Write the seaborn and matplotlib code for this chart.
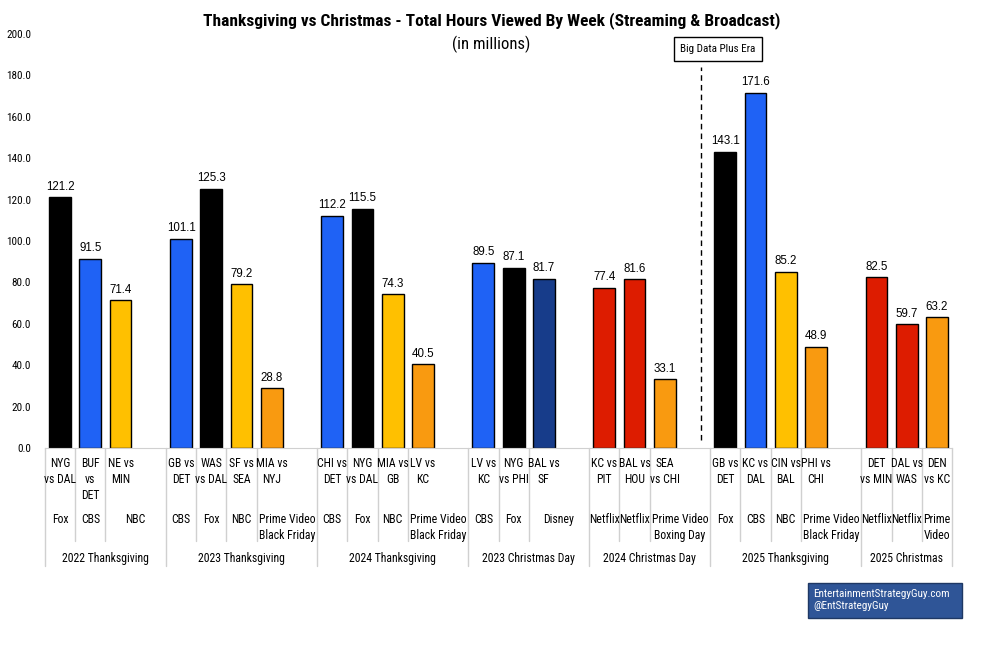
import matplotlib
matplotlib.use("Agg")
import matplotlib.pyplot as plt
import matplotlib.patches as mpatches
import matplotlib.transforms as mtransforms
from matplotlib import font_manager
import seaborn as sns
import pandas as pd

# ---- data ----
groups = ["2022 Thanksgiving", "2023 Thanksgiving", "2024 Thanksgiving",
          "2023 Christmas Day", "2024 Christmas Day", "2025 Thanksgiving",
          "2025 Christmas"]

games = [
    ["NYG\nvs DAL", "BUF\nvs\nDET", "NE vs\nMIN"],
    ["GB vs\nDET", "WAS\nvs DAL", "SF vs\nSEA", "MIA vs\nNYJ"],
    ["CHI vs\nDET", "NYG\nvs DAL", "MIA vs\nGB", "LV vs\nKC"],
    ["LV vs\nKC", "NYG\nvs PHI", "BAL vs\nSF"],
    ["KC vs\nPIT", "BAL vs\nHOU", "SEA\nvs CHI"],
    ["GB vs\nDET", "KC vs\nDAL", "CIN vs\nBAL", "PHI vs\nCHI"],
    ["DET\nvs MIN", "DAL vs\nWAS", "DEN\nvs KC"],
]

networks = [
    ["Fox", "CBS", "NBC"],
    ["CBS", "Fox", "NBC", "Prime Video"],
    ["CBS", "Fox", "NBC", "Prime Video"],
    ["CBS", "Fox", "Disney"],
    ["Netflix", "Netflix", "Prime Video"],
    ["Fox", "CBS", "NBC", "Prime Video"],
    ["Netflix", "Netflix", "Prime Video"],
]

network_labels = [
    ["Fox", "CBS", "NBC"],
    ["CBS", "Fox", "NBC", "Prime Video\nBlack Friday"],
    ["CBS", "Fox", "NBC", "Prime Video\nBlack Friday"],
    ["CBS", "Fox", "Disney"],
    ["Netflix", "Netflix", "Prime Video\nBoxing Day"],
    ["Fox", "CBS", "NBC", "Prime Video\nBlack Friday"],
    ["Netflix", "Netflix", "Prime\nVideo"],
]

hours = [
    [121.2, 91.5, 71.4],
    [101.1, 125.3, 79.2, 28.8],
    [112.2, 115.5, 74.3, 40.5],
    [89.5, 87.1, 81.7],
    [77.4, 81.6, 33.1],
    [143.1, 171.6, 85.2, 48.9],
    [82.5, 59.7, 63.2],
]

palette = {"Fox": "#000000", "CBS": "#1F62F5", "NBC": "#FFC000",
           "Prime Video": "#F99A10", "Disney": "#173C8A", "Netflix": "#DD1C00"}

# build slot order with an empty slot between groups
rows = []
order = []
group_spans = []
slot = 0
for gi, g in enumerate(groups):
    start = slot
    for j, val in enumerate(hours[gi]):
        key = f"s{slot}"
        order.append(key)
        rows.append({"slot": key, "pos": slot, "group": g, "game": games[gi][j],
                     "network": networks[gi][j], "netlabel": network_labels[gi][j],
                     "hours": val, "last": j == len(hours[gi]) - 1})
        slot += 1
    if gi < len(groups) - 1:
        order.append(f"s{slot}")
        slot += 1
    group_spans.append((start, slot))
df = pd.DataFrame(rows)
n_slots = len(order)

# pick a narrow font if one is installed
installed = {f.name for f in font_manager.fontManager.ttflist}
narrow = [f for f in ["Liberation Sans Narrow", "DejaVu Sans Condensed", "Roboto Condensed",
                      "Open Sans Condensed", "Noto Sans Condensed", "Arial Narrow"] if f in installed]
NARROW = narrow[0] if narrow else "Liberation Sans"

# ---- plot ----
sns.set_style("white")
plt.rcParams["text.color"] = "black"
plt.rcParams["ytick.color"] = "black"
fig = plt.figure(figsize=(9.83, 6.51), dpi=100)
ax = fig.add_axes([45 / 983, 203 / 651, 907 / 983, 414 / 651])

sns.barplot(data=df, x="slot", y="hours", hue="network", order=order,
            palette=palette, dodge=False, width=0.72, edgecolor="black",
            linewidth=1, saturation=1, legend=False, ax=ax)

ax.set_xlim(-0.5, n_slots - 0.5)
ax.set_ylim(0, 200)
ax.set_yticks(range(0, 201, 20))
ax.set_yticklabels([f"{v:.1f}" for v in range(0, 201, 20)], family=NARROW, fontsize=8)
ax.tick_params(axis="y", length=0, pad=10)
ax.set_xticks([])
ax.set_xlabel("")
ax.set_ylabel("")
for s in ["top", "right", "left"]:
    ax.spines[s].set_visible(False)
ax.spines["bottom"].set_color("#D0D0D0")

# value labels
for _, r in df.iterrows():
    ax.text(r["pos"], r["hours"] + 2.2, f"{r['hours']:.1f}", ha="center", va="bottom",
            fontsize=8.3, family="Liberation Sans")

# category table under axis
trans = mtransforms.blended_transform_factory(ax.transData, ax.transAxes)
line_kw = dict(color="#D0D0D0", lw=1, transform=trans, clip_on=False)
cat_size = 8.5 if narrow else 7
cat_font = dict(family=NARROW, fontsize=cat_size, linespacing=1.3)
for gi, (start, end) in enumerate(group_spans):
    ax.plot([start - 0.5, start - 0.5], [0, -0.285], **line_kw)
    ax.text((start + end - 1) / 2, -0.266, groups[gi], ha="center", va="center",
            transform=trans, **cat_font)
ax.plot([n_slots - 0.5, n_slots - 0.5], [0, -0.285], **line_kw)

starts = [s for s, _ in group_spans]
for _, r in df.iterrows():
    p = r["pos"]
    if p not in starts:
        ax.plot([p - 0.5, p - 0.5], [0, -0.225], **line_kw)
    ax.text(p, -0.022, r["game"], ha="center", va="top", transform=trans, **cat_font)
    cx = p + 0.5 if (r["last"] and p < n_slots - 1) else p
    ax.text(cx, -0.157, r["netlabel"], ha="center", va="top", transform=trans, **cat_font)

# era divider
ax.plot([21.2, 21.2], [4, 184], color="black", lw=1, ls=(0, (4, 3)))
ax.text(21.76, 192.7, "Big Data Plus Era", ha="center", va="center", fontsize=8,
        family=NARROW,
        bbox=dict(boxstyle="square,pad=0.6", fc="white", ec="black", lw=1))

# titles
fig.text(0.5, 0.969, "Thanksgiving vs Christmas - Total Hours Viewed By Week (Streaming & Broadcast)",
         ha="center", va="center", fontsize=12.5 if narrow else 11.5, weight="bold", family=NARROW)
fig.text(0.5, 0.932, "(in millions)", ha="center", va="center", fontsize=12, family=NARROW)

# credit box
fig.patches.append(mpatches.Rectangle((808 / 983, 1 - 618 / 651), 154 / 983, 35 / 651,
                                      transform=fig.transFigure, fc="#2F5597",
                                      ec="#1F3864", lw=1))
fig.text(813 / 983, 1 - 600 / 651, "EntertainmentStrategyGuy.com\n@EntStrategyGuy",
         ha="left", va="center", color="white", fontsize=8 if narrow else 7.2,
         family=NARROW, linespacing=1.35)

fig.savefig("out.png", dpi=100)
